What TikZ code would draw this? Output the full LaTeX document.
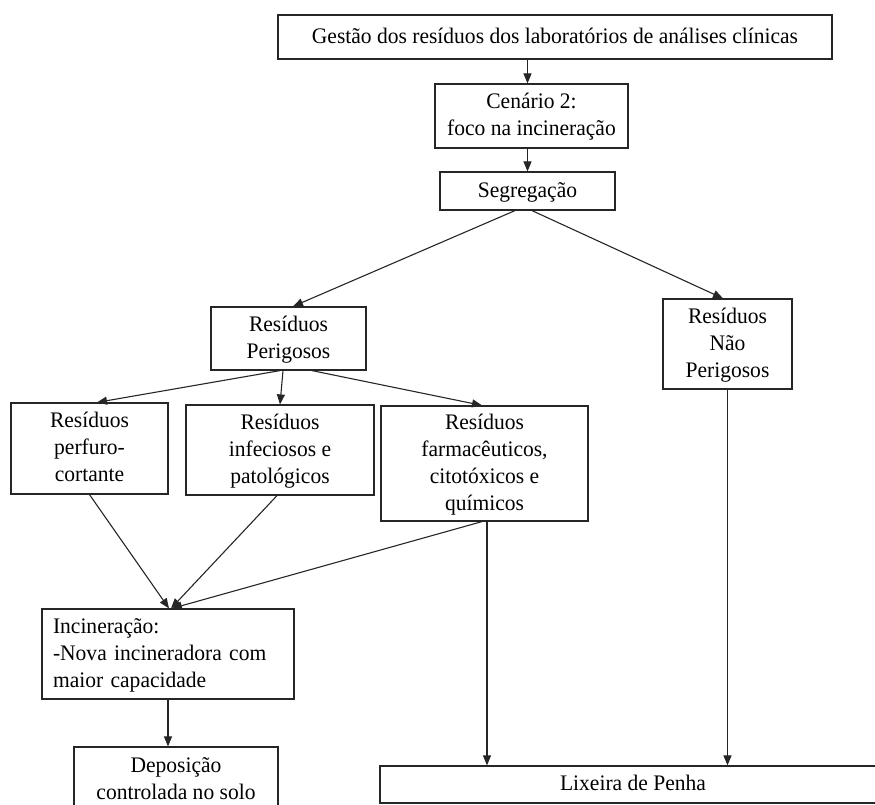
\documentclass[tikz,border=0pt]{standalone}
\usepackage{fontspec}
\setmainfont{Liberation Serif}[FakeStretch=0.97]
\usetikzlibrary{arrows.meta}

\begin{document}
\begin{tikzpicture}[x=1pt, y=-1pt,
  box/.style={draw=black!85, line width=1.2pt, rectangle, inner sep=0pt,
    align=center, font=\fontsize{22.2pt}{27pt}\selectfont,
    text height=17pt, text depth=5pt},
  leftbox/.style={box, align=left, text width=#1},
  % fixed text height per number of lines keeps the baselines evenly placed
  two/.style={text height=44pt},
  three/.style={text height=71pt},
  four/.style={text height=98pt},
  arr/.style={draw=black!85, line width=1.1pt, -{Triangle[length=10pt,width=8pt]}}]

\useasboundingbox (0,0) rectangle (875,804);
\clip (0,0) rectangle (875,804);

% boxes
\node[box, minimum width=554pt, minimum height=44pt] (top) at (555,37)
  {Gestão dos resíduos dos laboratórios de análises clínicas};
\node[box, two, minimum width=193pt, minimum height=64pt] (cen) at (531.5,116)
  {Cenário 2:\\foco na incineração};
\node[box, minimum width=175pt, minimum height=38pt] (seg) at (527.5,191)
  {Segregação};
\node[box, two, minimum width=155pt, minimum height=63pt] (per) at (288.5,338.5)
  {Resíduos\\Perigosos};
\node[box, three, minimum width=129pt, minimum height=90pt] (nper) at (727.5,344)
  {Resíduos\\Não\\Perigosos};
\node[box, three, minimum width=157pt, minimum height=91pt] (perf) at (89.5,448.5)
  {Resíduos\\perfuro-\\cortante};
\node[box, three, minimum width=188pt, minimum height=90pt] (inf) at (280,450)
  {Resíduos\\infeciosos e\\patológicos};
\node[box, four, minimum width=207pt, minimum height=115pt] (farm) at (484.5,463.5)
  {Resíduos\\farmacêuticos,\\citotóxicos e\\químicos};
\node[leftbox=230pt, text depth=59pt, minimum width=252pt, minimum height=90pt] (inc) at (168,654)
  {Incineração:\\-Nova incineradora com\\maior capacidade};
\node[box, two, minimum width=204pt, minimum height=66pt] (dep) at (176,780)
  {Deposição\\controlada no solo};
\node[box, minimum width=506pt, minimum height=37pt] (lix) at (633,784.5)
  {Lixeira de Penha};

% connectors
\draw[arr] (top.south -| seg.north) -- (cen.north -| seg.north);
\draw[arr] (cen.south -| seg.north) -- (seg.north);
\draw[arr] ([xshift=-12.5pt]seg.south) -- ([xshift=4.5pt]per.north);
\draw[arr] ([xshift=4.5pt]seg.south) -- ([xshift=-4.5pt]nper.north);
\draw[arr] ([xshift=-8.5pt]per.south) -- ([xshift=7.5pt]perf.north);
\draw[arr] ([xshift=-5.5pt]per.south) -- (inf.north);
\draw[arr] ([xshift=23.5pt]per.south) -- ([xshift=-2.5pt]farm.north);
\draw[arr] (perf.south) -- ([xshift=1pt]inc.north);
\draw[arr] ([xshift=-3pt]inf.south) -- ([xshift=3pt]inc.north);
\draw[arr] ([xshift=-2.5pt]farm.south) -- ([xshift=4pt]inc.north);
\draw[arr] ([xshift=2.5pt]farm.south) -- ([xshift=2.5pt]farm.south |- lix.north);
\draw[arr] (nper.south) -- (nper.south |- lix.north);
\draw[arr] (inc.south) -- (inc.south |- dep.north);

\end{tikzpicture}
\end{document}
